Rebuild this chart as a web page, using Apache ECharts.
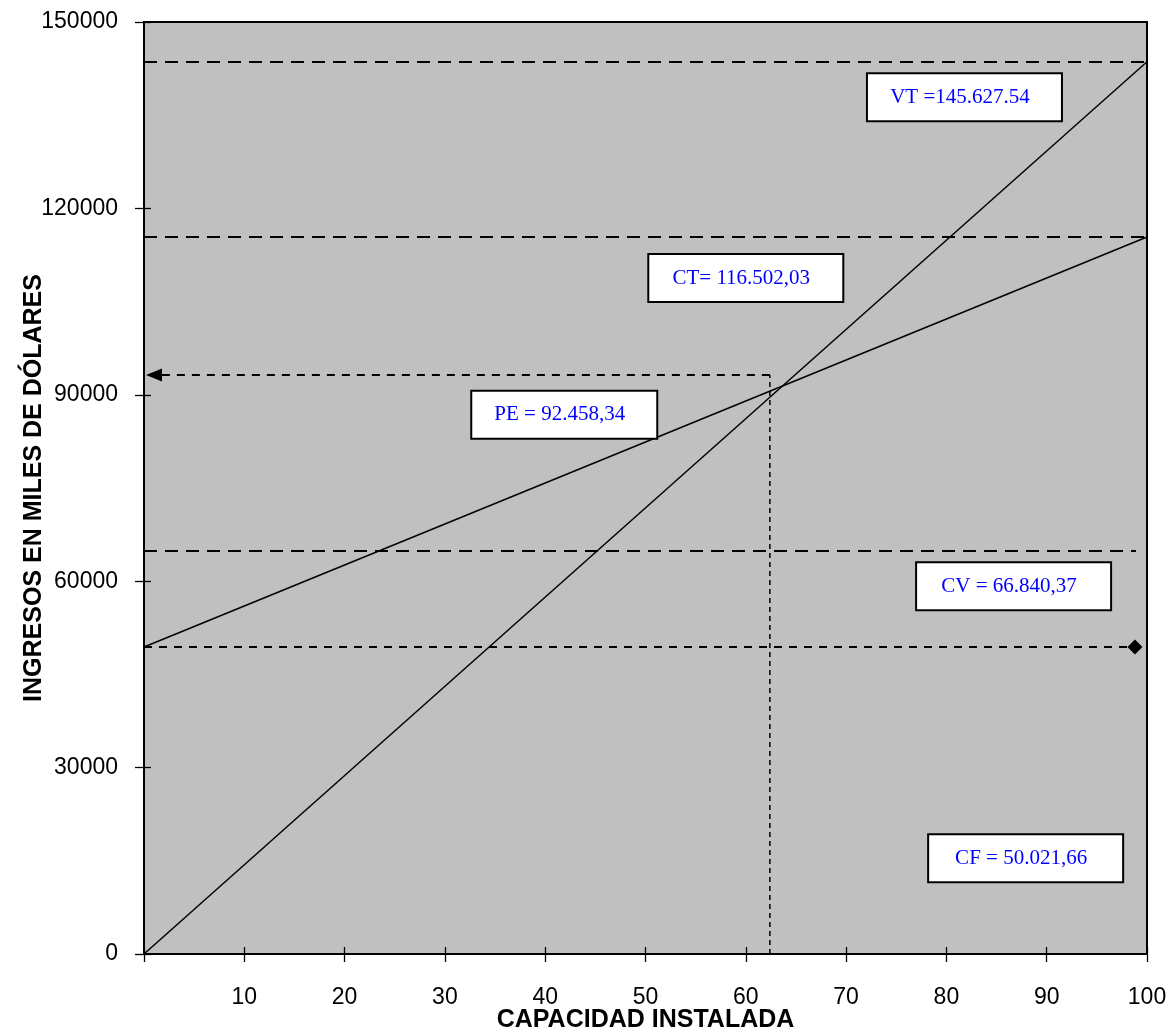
<!DOCTYPE html>
<html>
<head>
<meta charset="utf-8">
<script src="https://cdn.jsdelivr.net/npm/echarts@6/dist/echarts.min.js"></script>
<style>
html,body{margin:0;padding:0;background:#fff;}
#chart{width:1171px;height:1030px;}
</style>
</head>
<body>
<div id="chart"></div>
<script>
// ---- data ----
const capacidad = [0, 100];
const ventasTotales = [0, 143600];
const costosTotales = [49400, 115400];
const nivelVT = 143600;
const nivelCT = 115400;
const nivelCV = 64860;
const finCV = 98.9;
const nivelCF = 49400;
const finCF = 98.8;
const peX = 62.4;
const peY = 93200;
const flechaX = 1.0;
const xTicks = [0, 10, 20, 30, 40, 50, 60, 70, 80, 90, 100];
const yTicks = [0, 30000, 60000, 90000, 120000, 150000];
const notas = ['VT =145.627.54', 'CT= 116.502,03', 'PE = 92.458,34', 'CV = 66.840,37', 'CF = 50.021,66'];
const notasX = [81.8, 60.0, 41.9, 86.7, 87.9];
const notasY = [137900, 108800, 86800, 59200, 15400];

const sans = 'Liberation Sans, Arial, sans-serif';
const serif = 'Liberation Serif, Times New Roman, serif';

const chart = echarts.init(document.getElementById('chart'), null, {renderer: 'canvas'});

const xBase = {type: 'value', min: xTicks[0], max: xTicks[xTicks.length - 1], interval: 10, position: 'bottom'};
const yBase = {type: 'value', min: yTicks[0], max: yTicks[yTicks.length - 1], interval: 30000, position: 'left'};

const option = {
  animation: false,
  backgroundColor: '#ffffff',
  grid: {left: 144, right: 24, top: 22, bottom: 76, containLabel: false, outerBoundsMode: 'none',
    show: true, backgroundColor: '#c0c0c0', borderColor: '#000', borderWidth: 2},
  xAxis: [
    Object.assign({}, xBase, {
      name: 'CAPACIDAD INSTALADA', nameLocation: 'middle', nameGap: 54, nameMoveOverlap: false,
      nameTextStyle: {fontFamily: sans, fontWeight: 'bold', fontSize: 25, color: '#000'},
      axisLine: {show: true, lineStyle: {color: '#000', width: 2}},
      axisTick: {show: true, inside: false, length: 8, lineStyle: {color: '#000', width: 1.3}},
      axisLabel: {show: true, margin: 32, fontFamily: sans, fontSize: 23, color: '#000',
        formatter: v => (v === 0 ? '' : String(v))},
      splitLine: {show: false}
    }),
    Object.assign({}, xBase, {
      axisLine: {show: false},
      axisTick: {show: true, inside: true, length: 7, lineStyle: {color: '#000', width: 1.3}},
      axisLabel: {show: false}, splitLine: {show: false}
    })
  ],
  yAxis: [
    Object.assign({}, yBase, {
      name: 'INGRESOS EN MILES DE DÓLARES', nameLocation: 'middle', nameGap: 97, nameMoveOverlap: false,
      nameTextStyle: {fontFamily: sans, fontWeight: 'bold', fontSize: 25, color: '#000'},
      axisLine: {show: true, lineStyle: {color: '#000', width: 2}},
      axisTick: {show: true, inside: false, length: 9, lineStyle: {color: '#000', width: 1.3}},
      axisLabel: {show: true, margin: 26, fontFamily: sans, fontSize: 23, color: '#000',
        formatter: v => String(v)},
      splitLine: {show: false}
    }),
    Object.assign({}, yBase, {
      axisLine: {show: false},
      axisTick: {show: true, inside: true, length: 7, lineStyle: {color: '#000', width: 1.3}},
      axisLabel: {show: false}, splitLine: {show: false}
    })
  ],
  series: [
    {
      type: 'line', name: 'VT', silent: true, symbol: 'none',
      data: capacidad.map((x, i) => [x, ventasTotales[i]]),
      lineStyle: {color: '#000', width: 1.5}, z: 3,
      markLine: {
        silent: true, animation: false, symbol: ['none', 'none'], label: {show: false},
        data: [
          [{coord: [capacidad[0], nivelVT]}, {coord: [capacidad[1], nivelVT]}],
          [{coord: [capacidad[0], nivelCT]}, {coord: [capacidad[1], nivelCT]}],
          [{coord: [capacidad[0], nivelCV]}, {coord: [finCV, nivelCV]}]
        ],
        lineStyle: {color: '#000', width: 2, type: [13, 8]}
      }
    },
    {
      type: 'line', name: 'CT', silent: true, symbol: 'none',
      data: capacidad.map((x, i) => [x, costosTotales[i]]),
      lineStyle: {color: '#000', width: 1.5}, z: 3,
      markLine: {
        silent: true, animation: false, label: {show: false},
        data: [
          [{coord: [capacidad[0], nivelCF], symbol: 'none'},
           {coord: [finCF, nivelCF], symbol: 'diamond', symbolSize: [15, 15]}],
          [{coord: [peX, peY], symbol: 'none'},
           {coord: [flechaX, peY], symbol: 'triangle', symbolSize: [13, 16]}]
        ],
        lineStyle: {color: '#000', width: 2, type: [8, 7]},
        itemStyle: {color: '#000'}
      }
    },
    {
      type: 'line', name: 'PEv', silent: true, symbol: 'none',
      data: [[peX, 0], [peX, peY]],
      lineStyle: {color: '#000', width: 1.5, type: [5, 4]}, z: 2
    },
    {
      type: 'scatter', name: 'notas', silent: true, symbol: 'rect', symbolSize: 1,
      itemStyle: {color: 'rgba(0,0,0,0)', opacity: 1}, z: 10,
      data: notas.map((t, i) => ({
        value: [notasX[i], notasY[i]],
        label: {width: i === 2 ? 141 : 150}
      })),
      label: {
        show: true, position: 'inside', opacity: 1,
        formatter: p => notas[p.dataIndex],
        fontFamily: serif, fontSize: 21, color: '#0000ff',
        backgroundColor: '#fff', borderColor: '#000', borderWidth: 2,
        padding: [12, 26, 12, 17], lineHeight: 22, height: 22, align: 'center', verticalAlign: 'middle'
      }
    }
  ]
};
chart.setOption(option);
</script>
</body>
</html>
